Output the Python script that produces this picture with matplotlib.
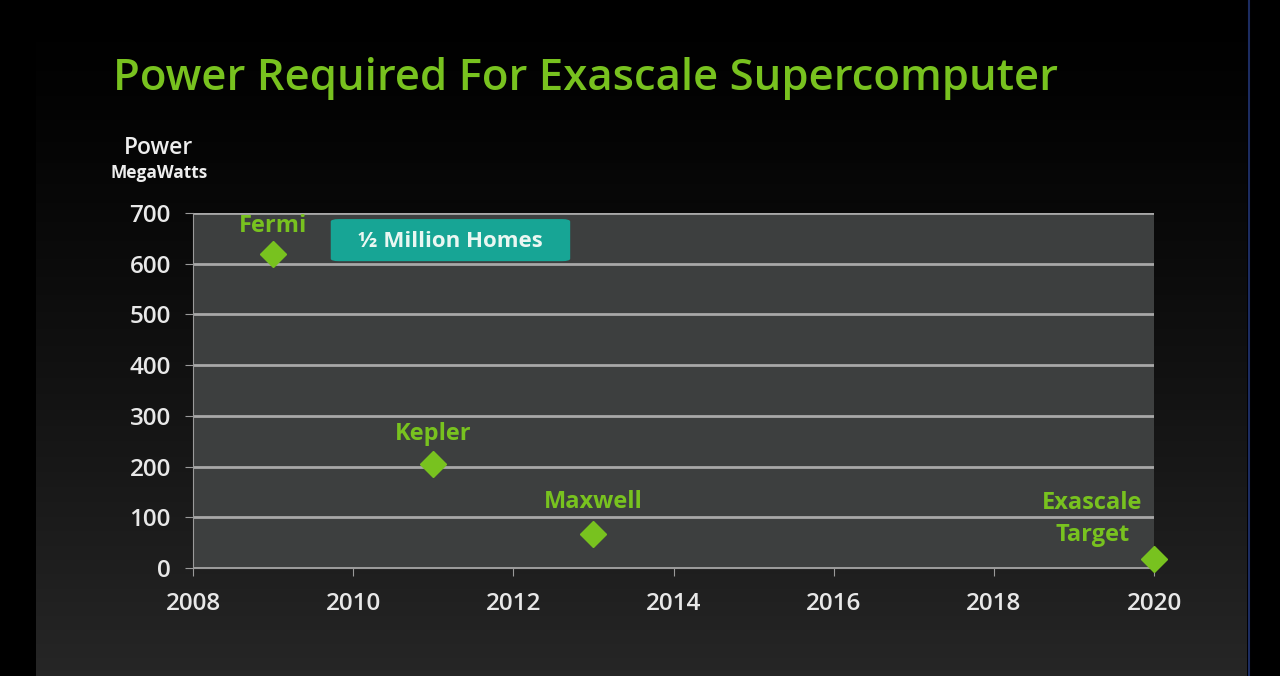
import numpy as np
import matplotlib.pyplot as plt
from matplotlib.patches import FancyBboxPatch

years = [2009, 2011, 2013, 2020]
power_mw = [620, 205, 67, 18]
names = ['Fermi', 'Kepler', 'Maxwell', 'Exascale\nTarget']
y_ticks = [0, 100, 200, 300, 400, 500, 600, 700]
x_ticks = [2008, 2010, 2012, 2014, 2016, 2018, 2020]

green = '#78c21f'
fnt = 'Open Sans'

fig = plt.figure(figsize=(12.8, 6.76), dpi=100)
fig.patch.set_facecolor('black')

# slide background: black at top fading to dark grey
bg = fig.add_axes([36 / 1280, 0, (1247 - 36) / 1280, 1])
grad = np.linspace(0, 1, 256) ** 1.3
bg.imshow(np.stack([grad * 0.15] * 3, axis=-1)[:, None, :].repeat(2, axis=1),
          aspect='auto', extent=[0, 1, 0, 1], origin='upper')
bg.set_axis_off()
fig.add_artist(plt.Line2D([1248.5 / 1280] * 2, [0, 1], transform=fig.transFigure,
                          color='#1c2c60', lw=1.5))

ax = fig.add_axes([193 / 1280, 1 - 568 / 676, (1154 - 193) / 1280, (568 - 213) / 676])
ax.set_facecolor('#3d3f3f')
ax.set_xlim(2008, 2020)
ax.set_ylim(0, 700)
ax.set_yticks(y_ticks)
ax.set_xticks(x_ticks)
ax.grid(axis='y', color='#a8a8a8', lw=2)
ax.set_axisbelow(True)
for s in ['top', 'right']:
    ax.spines[s].set_visible(False)
ax.spines['left'].set_color('#9a9a9a')
ax.spines['bottom'].set_color('#9a9a9a')
ax.tick_params(colors='#9a9a9a', labelcolor='#e8e8e8', labelsize=17.5, length=6)
ax.tick_params(axis='x', pad=11)
ax.tick_params(axis='y', pad=10)
for lab in ax.get_xticklabels() + ax.get_yticklabels():
    lab.set_fontfamily(fnt)
    lab.set_fontweight('semibold')

ax.plot(years, power_mw, 'D', color=green, ms=13, mec=green, ls='none', clip_on=False, zorder=5)

lab_kw = dict(color=green, fontsize=17, fontweight='bold', fontfamily=fnt)
ax.text(years[0], 674, names[0], ha='center', va='center', **lab_kw)
ax.text(years[1], 265, names[1], ha='center', va='center', **lab_kw)
ax.text(years[2], 130, names[2], ha='center', va='center', **lab_kw)
ax.text(2019.23, 96, names[3], ha='center', va='center', multialignment='center',
        linespacing=1.45, **lab_kw)

box = FancyBboxPatch((2009.72, 605), 2.99, 83, boxstyle='round,pad=0,rounding_size=0.1',
                     mutation_aspect=50, fc='#17a595', ec='none', zorder=4)
ax.add_patch(box)
ax.text(2011.21, 643, '½ Million Homes', color='#eaf7f2', fontsize=16, fontweight='bold',
        fontfamily=fnt, ha='center', va='center', zorder=6)

fig.text(113 / 1280, 1 - 78 / 676, 'Power Required For Exascale Supercomputer',
         color=green, fontsize=31.5, fontweight='semibold', fontfamily=fnt,
         ha='left', va='center')
fig.text(159 / 1280, 1 - 148 / 676, 'Power', color='#eeeeee', fontsize=16.5,
         fontweight='semibold', fontfamily=fnt, ha='center', va='center')
fig.text(159 / 1280, 1 - 173 / 676, 'MegaWatts', color='#eeeeee', fontsize=12.5,
         fontweight='bold', fontfamily=fnt, ha='center', va='center')

fig.savefig('out.png', dpi=100, facecolor=fig.get_facecolor())
